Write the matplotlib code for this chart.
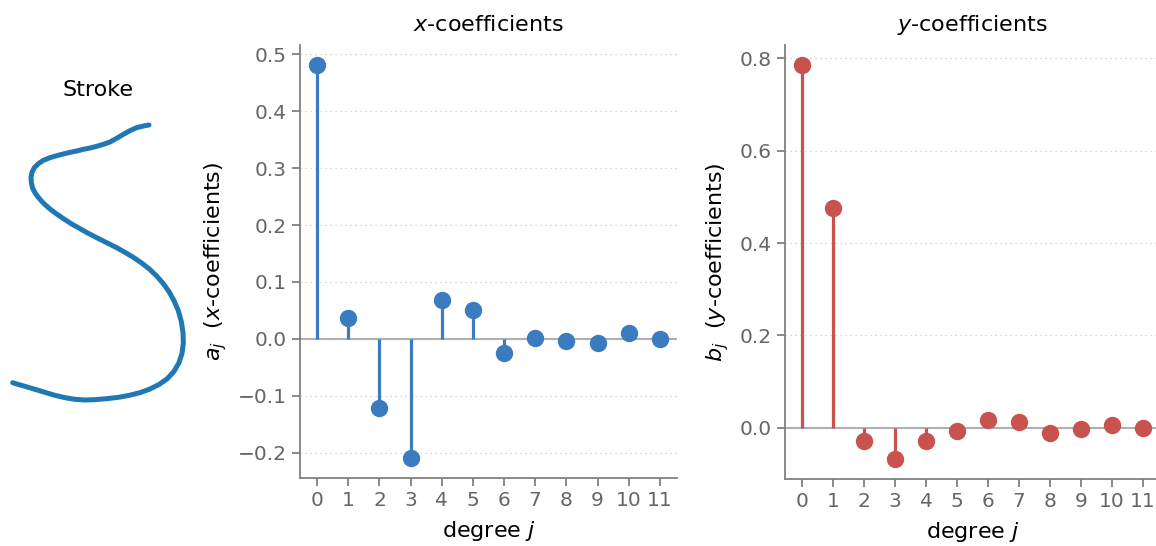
import numpy as np
import matplotlib
matplotlib.use("Agg")
import matplotlib.pyplot as plt

# stroke trace (x right, y down)
stroke_x = [447, 430, 410, 390, 370, 350, 330, 310, 290, 270, 250, 230, 210, 190, 170, 150, 130,
            115, 103, 96, 93, 94, 98, 106, 118, 133, 150, 170, 192, 215, 240, 265, 292, 320, 348,
            375, 400, 425, 448, 470, 490, 507, 522, 535, 544, 549, 550, 546, 537, 522, 502, 478,
            450, 420, 388, 355, 320, 285, 255, 225, 195, 165, 135, 105, 75, 50, 38]
stroke_y = [195, 198, 203, 212, 223, 235, 246, 253, 259, 264, 268, 273, 277, 282, 287, 293, 301,
            311, 323, 337, 352, 368, 385, 400, 416, 432, 447, 462, 477, 492, 506, 520, 534, 548, 562,
            577, 592, 609, 627, 648, 671, 695, 722, 752, 785, 818, 850, 880, 908, 934, 956, 973,
            987, 998, 1006, 1012, 1016, 1019, 1020, 1018, 1013, 1006, 997, 988, 979, 972, 968]

degrees = list(range(12))
a_coef = [0.482, 0.036, -0.121, -0.210, 0.069, 0.050, -0.024, 0.002, -0.004, -0.007, 0.011, 0.0]
b_coef = [0.786, 0.476, -0.029, -0.068, -0.029, -0.006, 0.016, 0.013, -0.012, -0.003, 0.006, 0.0]

blue = "#3b7bbf"
red = "#c8524e"
spine_col = "#808080"
tick_col = "#666666"

W, H = 1156, 546
fig = plt.figure(figsize=(W / 100, H / 100), dpi=100)


def px_axes(x0, y0, x1, y1):
    return fig.add_axes([x0 / W, 1 - y1 / H, (x1 - x0) / W, (y1 - y0) / H])


# stroke panel
ax0 = px_axes(5, 110, 190, 410)
ax0.plot(stroke_x, stroke_y, color="#1f77b4", lw=3.6, solid_capstyle="round", solid_joinstyle="round")
ax0.set_xlim(15, 570)
ax0.set_ylim(1050, 150)
ax0.axis("off")
ax0.set_title("Stroke", fontsize=16, pad=10)


def stem_panel(ax, vals, color, title, ylabel):
    ax.axhline(0, color="#b0b0b0", lw=1.5, zorder=1)
    ml, sl, bl = ax.stem(degrees, vals, basefmt=" ")
    plt.setp(sl, color=color, lw=2.3)
    plt.setp(ml, color=color, markersize=11.5)
    ax.set_xticks(degrees)
    ax.set_xlim(-0.55, 11.55)
    lo, hi = min(vals), max(vals)
    pad = (hi - lo) * 0.05
    ax.set_ylim(lo - pad, hi + pad)
    ax.grid(axis="y", color="#cccccc", ls=(0, (1, 3)), lw=0.9)
    ax.set_axisbelow(True)
    for s in ["top", "right"]:
        ax.spines[s].set_visible(False)
    for s in ["left", "bottom"]:
        ax.spines[s].set_color(spine_col)
        ax.spines[s].set_linewidth(1.3)
    ax.tick_params(colors=spine_col, labelcolor=tick_col, labelsize=14.5, length=6, width=1.3, pad=3.5)
    ax.set_title(title, fontsize=16, pad=10)
    ax.set_xlabel("degree $j$", fontsize=16, labelpad=6)
    ax.set_ylabel(ylabel, fontsize=16, labelpad=6)


ax1 = px_axes(300, 45, 677, 478)
stem_panel(ax1, a_coef, blue, "$x$-coefficients", "$a_j$  ($x$-coefficients)")
ax1.set_yticks([-0.2, -0.1, 0.0, 0.1, 0.2, 0.3, 0.4, 0.5])

ax2 = px_axes(785, 45, 1160, 479)
stem_panel(ax2, b_coef, red, "$y$-coefficients", "$b_j$  ($y$-coefficients)")
ax2.set_yticks([0.0, 0.2, 0.4, 0.6, 0.8])

fig.savefig("out.png", dpi=100)
